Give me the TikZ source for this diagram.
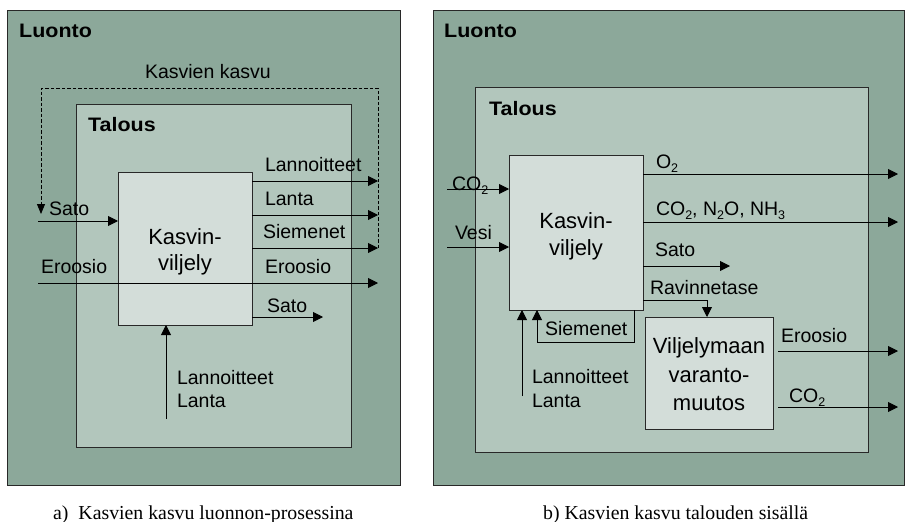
\documentclass[tikz,border=0pt]{standalone}
\usepackage{fontspec}
\setmainfont{Liberation Serif}
\setsansfont{Liberation Sans}
\newfontfamily\labbold{Liberation Sans Bold}[FakeStretch=1.1]
\usetikzlibrary{arrows.meta}
\definecolor{luontoc}{RGB}{140,168,154}
\definecolor{talousc}{RGB}{178,198,188}
\definecolor{kasvic}{RGB}{211,221,217}
\definecolor{edgec}{RGB}{40,40,40}
\newcommand\mysub[1]{\raisebox{-0.4ex}{\fontsize{12.5}{13}\selectfont #1}}
\tikzset{
  box/.style={draw=edgec, line width=1pt, inner sep=0pt, outer sep=0pt, anchor=north west},
  lab/.style={font=\sffamily\fontsize{19.5}{22}\selectfont, inner sep=0pt, outer sep=0pt, anchor=base west},
  clab/.style={font=\sffamily\fontsize{22}{24}\selectfont, inner sep=0pt, outer sep=0pt, anchor=base},
  blab/.style={font=\labbold\fontsize{19.5}{22}\selectfont, inner sep=0pt, anchor=base west},
  captxt/.style={font=\rmfamily\fontsize{19.8}{22}\selectfont, inner sep=0pt, anchor=base west},
  arr/.style={-{Triangle[length=10pt,width=10pt]}, line width=0.9pt, draw=black},
  dsh/.style={-{Triangle[length=10pt,width=8pt]}, line width=0.9pt, dash pattern=on 3.5pt off 2pt}
}
\begin{document}
\begin{tikzpicture}[x=1pt,y=-1pt]
\useasboundingbox (0,0) rectangle (905,522);
\fill[white] (0,0) rectangle (905,522);
% ---------- panel a ----------
\node[box, fill=luontoc, minimum width=393pt, minimum height=475pt] (luontoA) at (7,10) {};
\node[box, fill=talousc, minimum width=275pt, minimum height=343pt] (talousA) at (76,104) {};
\node[box, fill=kasvic, minimum width=134pt, minimum height=153pt] (kasA) at (118,172) {};
\node[blab] (luontoAl) at (19,37) {Luonto};
\node[blab] (talousAl) at (88,131) {Talous};
\node[lab] (kkA) at (145,78) {Kasvien kasvu};
\node[clab] (kasA1) at (185,244) {Kasvin-};
\node[clab] (kasA2) at (185,270) {viljely};
\node[lab] (lanA) at (265,171) {Lannoitteet};
\node[lab] (lntA) at (265,205) {Lanta};
\node[lab] (siemA) at (263,238) {Siemenet};
\node[lab] (satoAl) at (49,215) {Sato};
\node[lab] (eroAl) at (41,273) {Eroosio};
\node[lab] (eroAr) at (265,273) {Eroosio};
\node[lab] (satoAr) at (267,312) {Sato};
\node[lab] (lanAb) at (177,384) {Lannoitteet};
\node[lab] (lntAb) at (177,407) {Lanta};
\coordinate (a1) at (378,181);
\coordinate (a2) at (378,215);
\coordinate (a3) at (378,248);
\coordinate (dTR) at (378,88);
\coordinate (dTL) at (41,88);
\coordinate (dEnd) at (41,214);
\coordinate (satoIn) at (38,221);
\coordinate (eroIn) at (38,283);
\coordinate (eroOut) at (378,283);
\coordinate (satoOut) at (323,317);
\coordinate (lanIn) at (166,419);
\draw[arr] (kasA.east |- a1) -- (a1);
\draw[arr] (kasA.east |- a2) -- (a2);
\draw[arr] (kasA.east |- a3) -- (a3);
\draw[dsh] (a3) -- (dTR) -- (dTL) -- (dEnd);
\draw[arr] (satoIn) -- (kasA.west |- satoIn);
\draw[arr] (eroIn) -- (eroOut);
\draw[arr] (kasA.east |- satoOut) -- (satoOut);
\draw[arr] (lanIn) -- (kasA.south -| lanIn);
\node[captxt] (capA) at (53,519) {a)\ \ Kasvien kasvu luonnon-prosessina};
% ---------- panel b ----------
\node[box, fill=luontoc, minimum width=471pt, minimum height=475pt] (luontoB) at (433,10) {};
\node[box, fill=talousc, minimum width=393pt, minimum height=365pt] (talousB) at (475,87) {};
\node[box, fill=kasvic, minimum width=134pt, minimum height=155pt] (kasB) at (509,155) {};
\node[box, fill=kasvic, minimum width=128pt, minimum height=112pt] (varB) at (645,317) {};
\node[blab] (luontoBl) at (444,37) {Luonto};
\node[blab] (talousBl) at (489,115) {Talous};
\node[clab] (kasB1) at (576,228) {Kasvin-};
\node[clab] (kasB2) at (576,255) {viljely};
\node[clab] (varB1) at (709,353) {Viljelymaan};
\node[clab] (varB2) at (709,382) {varanto-};
\node[clab] (varB3) at (709,410) {muutos};
\node[lab] (o2l) at (656,168) {O\mysub{2}};
\node[lab] (gasl) at (656,215) {CO\mysub{2}, N\mysub{2}O, NH\mysub{3}};
\node[lab] (co2inl) at (452,190) {CO\mysub{2}};
\node[lab] (vesil) at (455,239) {Vesi};
\node[lab] (satoBl) at (655,256) {Sato};
\node[lab] (ravl) at (650,294) {Ravinnetase};
\node[lab] (siemBl) at (545,335) {Siemenet};
\node[lab] (lanBl) at (532,383) {Lannoitteet};
\node[lab] (lntBl) at (532,407) {Lanta};
\node[lab] (eroBl) at (781,342) {Eroosio};
\node[lab] (co2outl) at (789,402) {CO\mysub{2}};
\coordinate (o2e) at (898,174);
\coordinate (gase) at (898,222);
\coordinate (co2s) at (447,189);
\coordinate (vesis) at (447,247);
\coordinate (satoBe) at (730,266);
\coordinate (ravs) at (643,300);
\coordinate (ravc) at (707,300);
\coordinate (ero1) at (778,351);
\coordinate (ero2) at (898,351);
\coordinate (co21) at (778,407);
\coordinate (co22) at (898,407);
\coordinate (sl1) at (634,342);
\coordinate (sl2) at (537,342);
\coordinate (lanBs) at (522,396);
\draw[arr] (kasB.east |- o2e) -- (o2e);
\draw[arr] (kasB.east |- gase) -- (gase);
\draw[arr] (co2s) -- (kasB.west |- co2s);
\draw[arr] (vesis) -- (kasB.west |- vesis);
\draw[arr] (kasB.east |- satoBe) -- (satoBe);
\draw[arr] (ravs) -- (ravc) -- (varB.north -| ravc);
\draw[arr] (ero1) -- (ero2);
\draw[arr] (co21) -- (co22);
\draw[arr] (kasB.south -| sl1) -- (sl1) -- (sl2) -- (kasB.south -| sl2);
\draw[arr] (lanBs) -- (kasB.south -| lanBs);
\node[captxt] (capB) at (543,519) {b) Kasvien kasvu talouden sisällä};
\end{tikzpicture}
\end{document}
